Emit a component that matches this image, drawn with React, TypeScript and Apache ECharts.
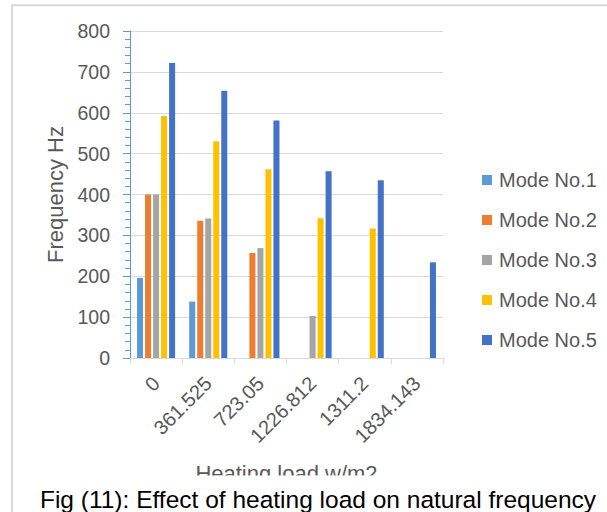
import React, { useEffect, useRef } from "react";
import * as echarts from "echarts";

// Heating load levels (w/m2) on the category axis
const categories = ["0", "361.525", "723.05", "1226.812", "1311.2", "1834.143"];

// Natural frequency (Hz) of each mode at every heating load; null = mode not present
const mode1 = [196, 138, null, null, null, null];
const mode2 = [400, 336, 257, null, null, null];
const mode3 = [400, 341, 269, 103, null, null];
const mode4 = [592, 530, 462, 342, 317, null];
const mode5 = [722, 654, 581, 457, 435, 234];

const seriesNames = ["Mode No.1", "Mode No.2", "Mode No.3", "Mode No.4", "Mode No.5"];
const seriesColors = ["#5B9BD5", "#ED7D31", "#A5A5A5", "#FFC000", "#4472C4"];

const yTicks = { min: 0, max: 800, interval: 100 };

const FONT = "'Liberation Sans', Arial, sans-serif";
const TEXT_GRAY = "#595959";
const GRID_GRAY = "#D9D9D9";

export default function App() {
  const ref = useRef<HTMLDivElement>(null);

  useEffect(() => {
    if (!ref.current) return;
    const chart = echarts.init(ref.current, undefined, { renderer: "svg" });
    const values = [mode1, mode2, mode3, mode4, mode5];

    chart.setOption({
      animation: false,
      backgroundColor: "#FFFFFF",
      textStyle: { fontFamily: FONT },
      color: seriesColors,
      grid: { left: 130, top: 31, width: 313, height: 327, containLabel: false },
      legend: {
        orient: "vertical",
        left: 482,
        top: 170,
        padding: 0,
        itemWidth: 10,
        itemHeight: 10,
        itemGap: 20,
        icon: "rect",
        data: seriesNames,
        textStyle: {
          fontFamily: FONT,
          fontSize: 20,
          color: TEXT_GRAY,
          lineHeight: 20,
          padding: [0, 0, 0, 2],
        },
      },
      xAxis: {
        type: "category",
        data: categories,
        name: "Heating load w/m2",
        nameLocation: "middle",
        nameGap: 104,
        nameTextStyle: { fontFamily: FONT, fontSize: 22, color: TEXT_GRAY },
        axisLine: { lineStyle: { color: GRID_GRAY, width: 1 } },
        axisTick: { show: true, length: 6, lineStyle: { color: GRID_GRAY } },
        axisLabel: {
          rotate: 45,
          margin: 22,
          fontFamily: FONT,
          fontSize: 20,
          color: TEXT_GRAY,
        },
        splitLine: { show: false },
      },
      yAxis: {
        type: "value",
        min: yTicks.min,
        max: yTicks.max,
        interval: yTicks.interval,
        name: "Frequency Hz",
        nameLocation: "middle",
        nameRotate: 90,
        nameGap: 62,
        nameTextStyle: { fontFamily: FONT, fontSize: 22, color: TEXT_GRAY },
        axisLine: { show: true, lineStyle: { color: "#5B9BD5", width: 1 } },
        axisTick: { show: true, length: 7, lineStyle: { color: "#5B9BD5" } },
        minorTick: { show: true, splitNumber: 5, length: 5, lineStyle: { color: "#5B9BD5" } },
        axisLabel: { margin: 20, fontFamily: FONT, fontSize: 19.5, color: TEXT_GRAY },
        splitLine: { show: true, lineStyle: { color: GRID_GRAY, width: 1 } },
      },
      series: seriesNames.map((name, i) => ({
        name,
        type: "bar",
        data: values[i],
        barGap: "33%",
        barCategoryGap: "27%",
        itemStyle: { color: seriesColors[i] },
      })),
      graphic: [
        {
          type: "rect",
          silent: true,
          shape: { x: 12, y: 5.3, width: 700, height: 600 },
          style: { fill: "none", stroke: GRID_GRAY, lineWidth: 2 },
        },
        {
          type: "rect",
          silent: true,
          z: 100,
          shape: { x: 60, y: 475.5, width: 480, height: 12 },
          style: { fill: "#FFFFFF" },
        },
        {
          type: "text",
          silent: true,
          z: 101,
          x: 318,
          y: 499,
          style: {
            text: "Fig (11): Effect of heating load on natural frequency",
            fontFamily: FONT,
            fontSize: 24.5,
            fill: "#000000",
            align: "center",
            verticalAlign: "middle",
          },
        },
      ],
    });

    return () => chart.dispose();
  }, []);

  return (
    <div
      ref={ref}
      style={{ position: "absolute", left: 0, top: 0, width: 607, height: 512, background: "#FFFFFF" }}
    />
  );
}
